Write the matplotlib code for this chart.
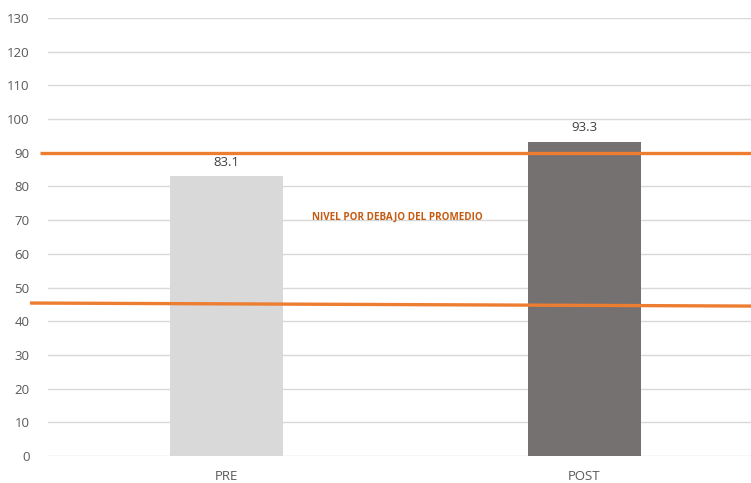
import matplotlib
matplotlib.use("Agg")
import matplotlib.pyplot as plt

categories = ["PRE", "POST"]
values = [83.1, 93.3]
bar_colors = ["#D9D9D9", "#767171"]
yticks = list(range(0, 140, 10))
upper_level = [90.0, 90.0]        # left, right
lower_level = [45.4, 44.5]        # left, right
annotation = "NIVEL POR DEBAJO DEL PROMEDIO"

plt.rcParams['font.family'] = ['Open Sans', 'DejaVu Sans']

W, H = 751, 483
fig = plt.figure(figsize=(W / 100, H / 100), dpi=100)
left_px, right_px = 47.5, 763.5
bottom_px, top_px = 456, 18
ax = fig.add_axes([left_px / W, (H - bottom_px) / H,
                   (right_px - left_px) / W, (bottom_px - top_px) / H])

x = list(range(len(categories)))
bars = ax.bar(x, values, width=0.316, color=bar_colors, zorder=2)
for xi, v in zip(x, values):
    ax.text(xi, v + 2.2, f"{v:.1f}", ha="center", va="bottom",
            fontsize=9.5, color="#404040")

ax.set_xlim(-0.5, 1.5)
ax.set_ylim(0, 130)
ax.set_yticks(yticks)
ax.set_yticklabels([str(t) for t in yticks], fontsize=9.5, color="#595959")
ax.set_xticks(x)
ax.set_xticklabels(categories, fontsize=9.5, color="#595959")
ax.tick_params(axis="both", length=0)
ax.tick_params(axis="y", pad=13)
ax.tick_params(axis="x", pad=10)
ax.grid(axis="y", color="#D9D9D9", linewidth=1.0, zorder=0)
ax.set_axisbelow(True)
for s in ax.spines.values():
    s.set_visible(False)

# orange reference lines (extend beyond plot area to the left)
x_right = -0.5 + (751 - left_px) / (right_px - left_px) * 2
ax.plot([-0.521, x_right], upper_level, color="#ED7D31", linewidth=2.4,
        clip_on=False, zorder=3, solid_capstyle="butt")
ax.plot([-0.549, x_right], lower_level, color="#ED7D31", linewidth=2.4,
        clip_on=False, zorder=3, solid_capstyle="butt")

ax.text(0.5 + (397 - (left_px + right_px) / 2) / (right_px - left_px) * 2,
        71, annotation, ha="center", va="center", fontsize=7.1,
        fontweight="bold", color="#C55A11")

fig.savefig("out.png", dpi=100)
